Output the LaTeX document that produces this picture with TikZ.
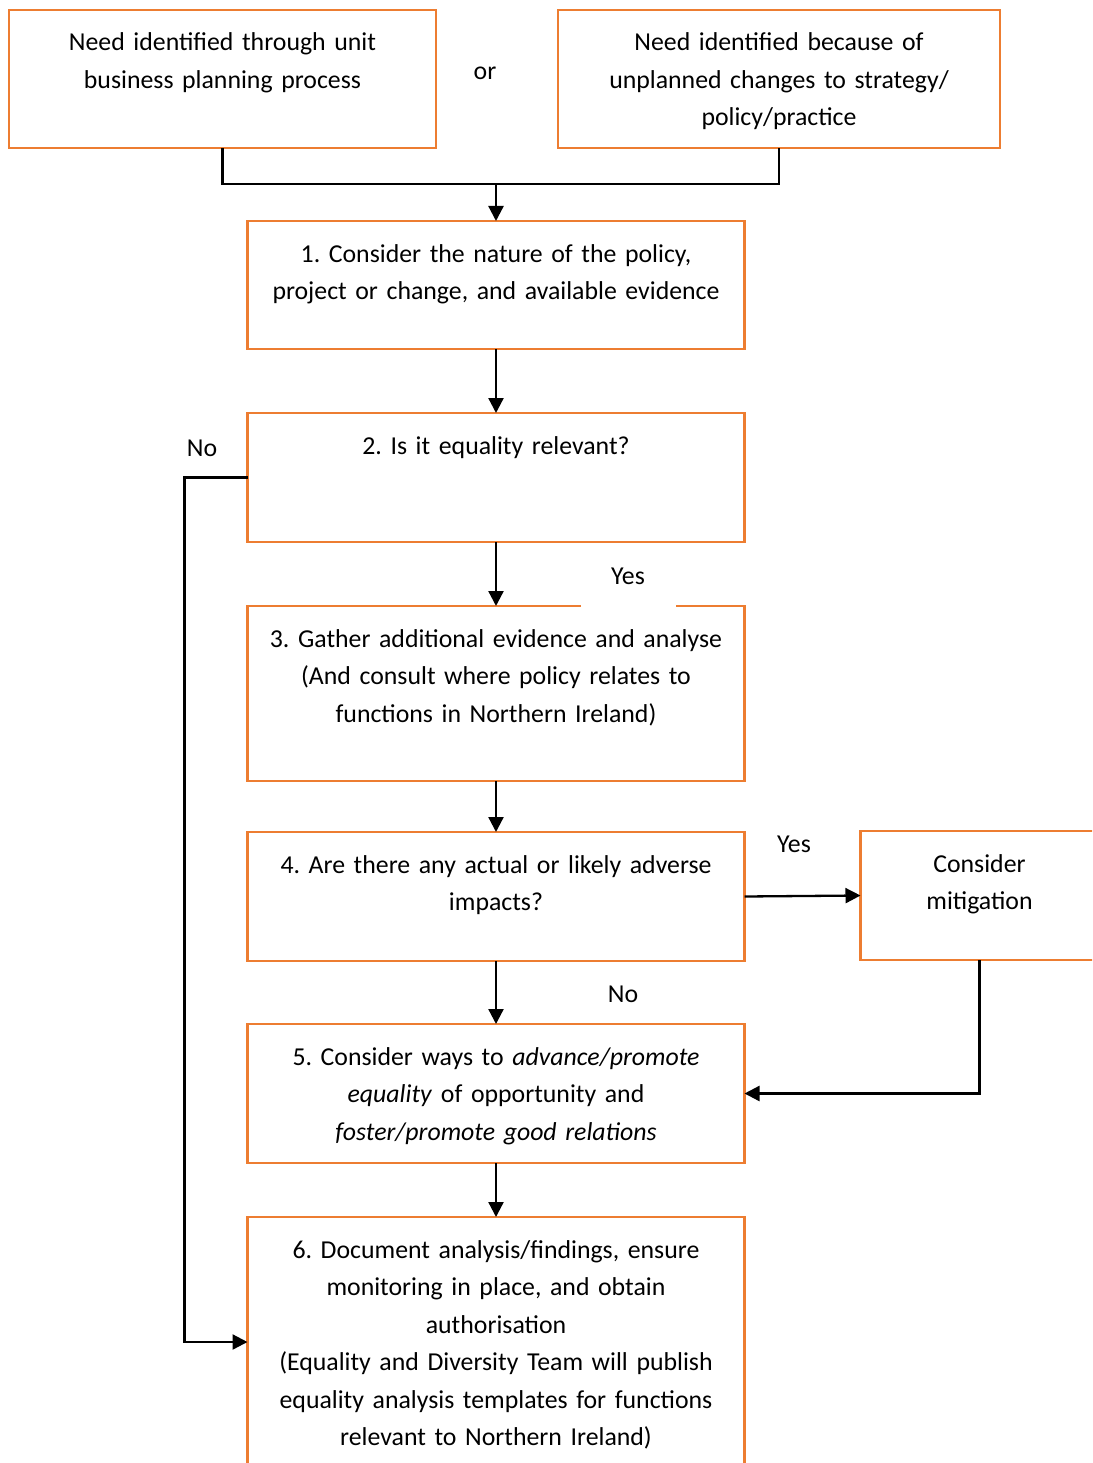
\documentclass[tikz,border=0pt]{standalone}
\usepackage{fontspec}
\setmainfont{Carlito}
\usetikzlibrary{positioning, arrows.meta, calc}
\definecolor{boxorange}{RGB}{237,125,49}
\frenchspacing

\begin{document}
\begin{tikzpicture}[
    x=1pt, y=1pt,
    font=\fontsize{25.8pt}{37.5pt}\selectfont,
    box/.style={rectangle, draw=boxorange, line width=2.5pt, inner sep=0pt, outer sep=0pt, align=center, text height=41pt},
    label/.style={inner sep=2pt},
    arrow/.style={-{Triangle[length=15pt, width=15pt]}, line width=2.3pt},
    line/.style={line width=2.3pt},
]
    \clip (0,0) rectangle (1092,-1463);

%% START
    % where the need comes from
    \node[box, anchor=north west, text width=427pt, text depth=97pt] (unitplan) at (9,-10) {Need identified through unit\\business planning process};
    \node[box, anchor=north west, text width=442pt, text depth=97pt] (unplanned) at (558,-10) {Need identified because of\\unplanned changes to strategy/\\policy/practice};
    \node[label] (or) at (485,-73) {or};

%% MAIN STEPS
    \node[box, anchor=north, text width=497pt, text depth=87pt] (consider) at (496,-221) {1. Consider the nature of the policy,\\project or change, and available evidence};
    \node[box, below=64pt of consider, text width=497pt, text depth=88pt] (relevant) {2. Is it equality relevant?};
    \node[box, below=64pt of relevant, text width=497pt, text depth=134pt] (gather) {3. Gather additional evidence and analyse\\(And consult where policy relates to\\functions in Northern Ireland)};
    \node[box, below=51pt of gather, text width=497pt, text depth=88pt] (adverse) {4. Are there any actual or likely adverse\\impacts?};
    \node[box, below=63pt of adverse, text width=497pt, text depth=98pt] (promote) {5. Consider ways to \textit{advance/promote}\\\textit{equality} of opportunity and\\\textit{foster/promote good relations}};
    \node[box, below=54pt of promote, text width=497pt, text depth=209pt] (document) {6. Document analysis/findings, ensure\\monitoring in place, and obtain\\authorisation\\(Equality and Diversity Team will publish\\equality analysis templates for functions\\relevant to Northern Ireland)};
    \node[box, right=116pt of adverse.north east, anchor=north west, yshift=1pt, text width=238pt, text depth=88pt] (mitigation) {Consider\\mitigation};

    % answers
    \node[label] (no1) at (202,-448) {No};
    \node[label, fill=white, minimum width=95pt, minimum height=62pt] (yes1) at (628,-576) {Yes};
    \node[label] (yes2) at (794,-844) {Yes};
    \node[label] (no2) at (623,-994) {No};

%% CONNECTORS
    \coordinate (join) at ($(consider.north)+(0,37)$);
    \draw[line] (unitplan.south) |- (join) -| (unplanned.south);
    \draw[arrow] (join) -- (consider.north);
    \draw[arrow] (consider.south) -- (relevant.north);
    \draw[arrow] (relevant.south) -- (gather.north);
    \draw[arrow] (gather.south) -- (adverse.north);
    \draw[arrow] (adverse.south) -- (promote.north);
    \draw[arrow] (promote.south) -- (document.north);
    \draw[arrow] (adverse.east) -- (mitigation.west);
    \draw[arrow] (mitigation.south) |- (promote.east);
    \draw[arrow] (relevant.west) -- ++(-63,0) |- (document.west);

\end{tikzpicture}
\end{document}
